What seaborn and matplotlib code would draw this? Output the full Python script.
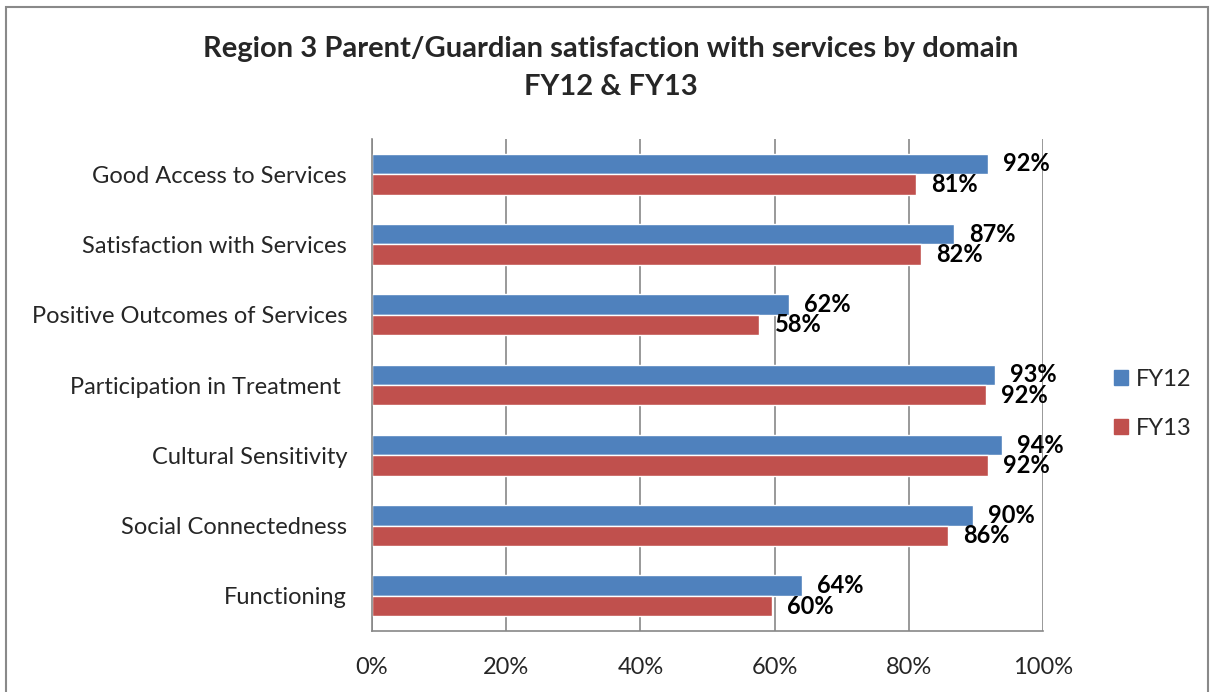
import matplotlib
matplotlib.use("Agg")
import matplotlib.pyplot as plt
import matplotlib.patches as mpatches
from matplotlib.ticker import FixedLocator
import seaborn as sns
import pandas as pd

# --- Data ---
categories = [
    "Good Access to Services",
    "Satisfaction with Services",
    "Positive Outcomes of Services",
    "Participation in Treatment ",
    "Cultural Sensitivity",
    "Social Connectedness",
    "Functioning",
]
fy12 = [91.8, 86.7, 62.1, 92.8, 93.9, 89.6, 64.1]
fy13 = [81.1, 81.8, 57.7, 91.5, 91.8, 85.8, 59.6]
series = ["FY12", "FY13"]
x_ticks = [0, 20, 40, 60, 80, 100]

df = pd.DataFrame({
    "Domain": categories * 2,
    "Year": ["FY12"] * len(categories) + ["FY13"] * len(categories),
    "Pct": fy12 + fy13,
})

sns.set_theme(style="white")
plt.rcParams["font.family"] = ["Lato", "DejaVu Sans"]

BLUE = "#4F81BD"
RED = "#C0504D"
GRID = "#878787"

fig = plt.figure(figsize=(12.12, 6.92), dpi=100)
ax = fig.add_axes([372 / 1212, 1 - 631 / 692, (1043 - 372) / 1212, (631 - 139) / 692])

sns.barplot(data=df, y="Domain", x="Pct", hue="Year", orient="h",
            palette=[BLUE, RED], width=0.58, saturation=1, ax=ax, legend=False)

for container in ax.containers:
    ax.bar_label(container, labels=[f"{v.get_width():.0f}%" for v in container],
                 padding=11, fontsize=17, fontweight="bold", color="black")

ax.set_xlim(0, 100)
ax.set_ylim(len(categories) - 0.5, -0.5)
ax.set_xticks(x_ticks)
ax.set_xticklabels([f"{t}%" for t in x_ticks], fontsize=17)
ax.xaxis.grid(True, color=GRID, linewidth=1.2)
ax.set_axisbelow(True)
ax.set_xlabel("")
ax.set_ylabel("")
ax.tick_params(axis="y", which="major", length=0, labelsize=17, pad=18)
ax.yaxis.set_minor_locator(FixedLocator([i - 0.5 for i in range(len(categories) + 1)]))
ax.tick_params(axis="y", which="minor", length=7, width=1.2, color=GRID, direction="out")
ax.tick_params(axis="x", which="major", length=7, width=1.2, color=GRID, direction="out", pad=12)

for side in ["top", "right"]:
    ax.spines[side].set_visible(False)
for side in ["left", "bottom"]:
    ax.spines[side].set_color(GRID)
    ax.spines[side].set_linewidth(1.2)

handles = [mpatches.Patch(color=BLUE, label=series[0]),
           mpatches.Patch(color=RED, label=series[1])]
fig.legend(handles=handles, loc="center left", bbox_to_anchor=(1093 / 1212, 1 - 404 / 692),
           frameon=False, fontsize=17, handlelength=0.6, handleheight=0.6,
           labelspacing=1.2, handletextpad=0.3)

fig.text(611 / 1212, 1 - 68 / 692,
         "Region 3 Parent/Guardian satisfaction with services by domain\nFY12 & FY13",
         ha="center", va="center", fontsize=21, fontweight="bold", linespacing=1.55)

# chart frame
fig.patches.append(mpatches.Rectangle((6 / 1212, -0.02), (1208 - 6) / 1212, 1 - 7 / 692 + 0.02,
                                      transform=fig.transFigure, fill=False,
                                      edgecolor="#898989", linewidth=1.5))

fig.savefig("out.png", dpi=100)
